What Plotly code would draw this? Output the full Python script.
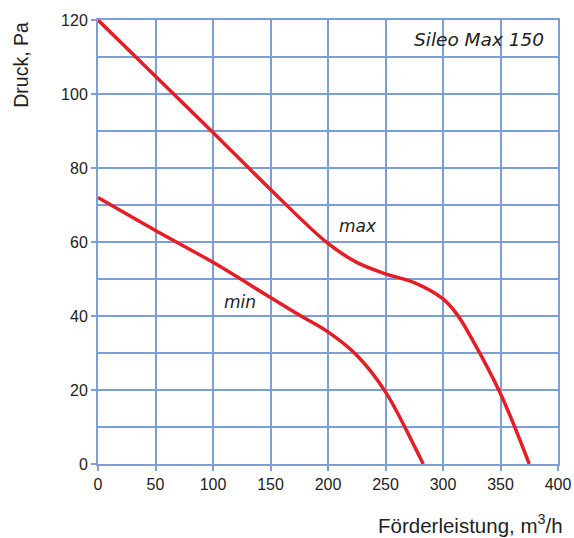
import plotly.graph_objects as go

max_x = [0, 50, 100, 150, 200, 225, 250, 275, 300, 312.5, 325, 350, 375]
max_y = [120, 104.8, 89.6, 74.2, 59.6, 54.5, 51.4, 49.0, 44.6, 40.3, 33.9, 19, 0]
min_x = [0, 50, 100, 150, 175, 200, 225, 250, 275, 282.8]
min_y = [72, 63.1, 54.5, 45, 40.3, 35.7, 29.4, 19.5, 4.9, 0]

x_ticks = [0, 50, 100, 150, 200, 250, 300, 350, 400]
y_ticks = [0, 20, 40, 60, 80, 100, 120]

grid = "#7d9dd5"
red = "#e51e25"

fig = go.Figure()
fig.add_trace(go.Scatter(x=max_x, y=max_y, mode="lines",
                         line=dict(color=red, width=3.5, shape="spline", smoothing=1),
                         hoverinfo="skip", showlegend=False))
fig.add_trace(go.Scatter(x=min_x, y=min_y, mode="lines",
                         line=dict(color=red, width=3.5, shape="spline", smoothing=1),
                         hoverinfo="skip", showlegend=False))

tick_font = dict(family="Liberation Sans, Arial, sans-serif", size=16, color="#222")

fig.update_xaxes(range=[0, 400], tickvals=x_ticks, showgrid=True, gridcolor=grid, gridwidth=2,
                 showline=True, linecolor=grid, linewidth=2, mirror=True,
                 ticks="outside", ticklen=5, tickcolor=grid, tickwidth=2,
                 zeroline=False, tickfont=tick_font, automargin=False)
fig.update_yaxes(range=[0, 120], tickvals=y_ticks, showgrid=True, gridcolor=grid, gridwidth=2,
                 minor=dict(dtick=10, showgrid=True, gridcolor=grid, gridwidth=2, ticks=""),
                 showline=True, linecolor=grid, linewidth=2, mirror=True,
                 ticks="outside", ticklen=5, tickcolor=grid, tickwidth=2,
                 zeroline=False, tickfont=tick_font, automargin=False)

lab_font = dict(family="DejaVu Sans, sans-serif", size=17, color="#222")
fig.add_annotation(x=226, y=64.3, text="<i>max</i>", showarrow=False, font=lab_font)
fig.add_annotation(x=123.5, y=43.8, text="<i>min</i>", showarrow=False, font=lab_font)
fig.add_annotation(x=389.6, y=114.8, text="<i>Sileo Max 150</i>", showarrow=False,
                   xanchor="right", font=dict(family="DejaVu Sans, sans-serif", size=18.5, color="#222"))

fig.add_annotation(xref="paper", yref="paper", x=-0.168, y=1.0, xanchor="center", yanchor="top",
                   text="Druck, Pa", textangle=-90, showarrow=False,
                   font=dict(family="Liberation Sans, Arial, sans-serif", size=19.5, color="#222"))
fig.add_annotation(xref="paper", yref="paper", x=1.015, y=-0.135, xanchor="right", yanchor="middle",
                   text="Förderleistung, m<sup>3</sup>/h", showarrow=False,
                   font=dict(family="Liberation Sans, Arial, sans-serif", size=20.5, color="#222"))

fig.update_layout(width=574, height=538, margin=dict(l=98, r=16, t=20, b=74),
                  plot_bgcolor="white", paper_bgcolor="white")
fig.write_html("out.html", config={"displayModeBar": False},
               post_script="document.body.style.margin='0px';document.body.style.overflow='hidden';")
